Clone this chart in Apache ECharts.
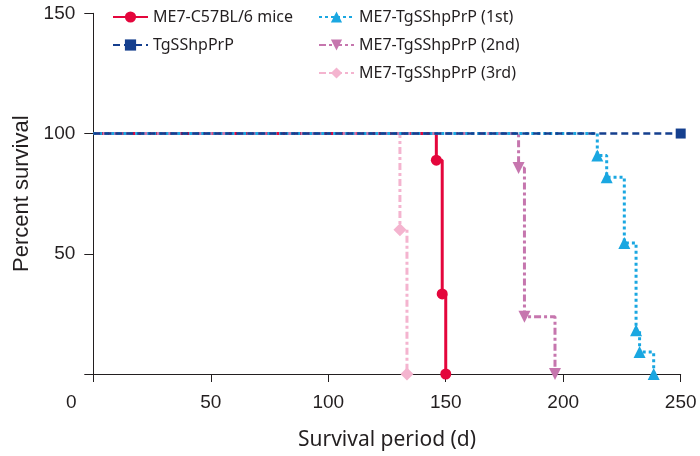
<!DOCTYPE html>
<html>
<head>
<meta charset="utf-8">
<script src="https://cdn.jsdelivr.net/npm/echarts@6/dist/echarts.min.js"></script>
<style>html,body{margin:0;padding:0;background:#fff}#c{width:700px;height:456px}</style>
</head>
<body>
<div id="c"></div>
<script>
// ---- data ----
const seriesNames = ['ME7-C57BL/6 mice','TgSShpPrP','ME7-TgSShpPrP (1st)','ME7-TgSShpPrP (2nd)','ME7-TgSShpPrP (3rd)'];
const daysC57 = [0, 146, 148.5, 150];
const survC57 = [100, 88.9, 33.3, 0];
const daysTg = [0, 250];
const survTg = [100, 100];
const days1st = [0, 214.5, 218.5, 226, 231, 232.5, 238.5];
const surv1st = [100, 90.9, 81.8, 54.5, 18.2, 9.1, 0];
const days2nd = [0, 181, 183.5, 196.5];
const surv2nd = [100, 85.7, 23.8, 0];
const days3rd = [0, 130.5, 133.5];
const surv3rd = [100, 60, 0];
const xTicks = [0, 50, 100, 150, 200, 250];
const yTicks = [0, 50, 100, 150];

function pts(xs, ys){
  return xs.map((x,i)=> i===0 ? {value:[x,ys[i]], symbol:'none'} : {value:[x,ys[i]]});
}

const chart = echarts.init(document.getElementById('c'), null, {renderer:'canvas'});
const tickFont = 'Liberation Sans, Arial, sans-serif';
const titleFont = 'Noto Sans, sans-serif';
const cols = ['#e4063c','#153f8e','#1aa7e1','#c676ae','#f4b4cf'];

chart.setOption({
  animation:false,
  backgroundColor:'#fff',
  grid:{left:93.3, right:19.3, top:13.3, bottom:79, containLabel:false},
  legend:[
    {data:[seriesNames[0],seriesNames[1]], orient:'vertical', left:107, top:4, itemWidth:35, itemHeight:14, itemGap:12,
     textStyle:{fontFamily:titleFont, fontSize:16, color:'#231f20'}, selectedMode:false},
    {data:[seriesNames[2],seriesNames[3],seriesNames[4]], orient:'vertical', left:313, top:4, itemWidth:35, itemHeight:14, itemGap:12,
     textStyle:{fontFamily:titleFont, fontSize:16, color:'#231f20'}, selectedMode:false}
  ],
  xAxis:{
    type:'value', min:0, max:250, interval:50,
    name:'Survival period (d)', nameLocation:'middle', nameGap:56,
    nameTextStyle:{fontFamily:titleFont, fontSize:21, color:'#231f20'},
    axisLine:{lineStyle:{color:'#231f20', width:1}},
    axisTick:{length:8, lineStyle:{color:'#231f20'}},
    splitLine:{show:false},
    axisLabel:{margin:19, fontFamily:tickFont, fontSize:19, color:'#231f20',
      formatter:function(v){ return v===0 ? '{z|0}' : String(v); },
      rich:{z:{fontFamily:tickFont, fontSize:19, color:'#231f20', padding:[0,44,0,0]}}}
  },
  yAxis:{
    type:'value', min:0, max:150, interval:50,
    name:'Percent survival', nameLocation:'middle', nameGap:58,
    nameTextStyle:{fontFamily:tickFont, fontSize:22, color:'#231f20'},
    axisLine:{show:true, lineStyle:{color:'#231f20', width:1}},
    axisTick:{show:true, length:9, lineStyle:{color:'#231f20'}},
    splitLine:{show:false},
    axisLabel:{margin:18, fontFamily:tickFont, fontSize:19, color:'#231f20',
      formatter:function(v){ return v===0 ? '' : String(v); }}
  },
  series:[
    {name:seriesNames[0], type:'line', step:'end', data:pts(daysC57,survC57), symbol:'circle', symbolSize:11,
     color:cols[0], lineStyle:{width:3, type:'solid', color:cols[0]}, itemStyle:{color:cols[0]}, z:1},
    {name:seriesNames[4], type:'line', step:'end', data:pts(days3rd,surv3rd), symbol:'diamond', symbolSize:13,
     color:cols[4], lineStyle:{width:3, type:[7,3,3,3], color:cols[4]}, itemStyle:{color:cols[4]}, z:2},
    {name:seriesNames[3], type:'line', step:'end', data:pts(days2nd,surv2nd), symbol:'triangle', symbolRotate:180, symbolSize:12,
     color:cols[3], lineStyle:{width:3, type:[7,3,3,3], color:cols[3]}, itemStyle:{color:cols[3]}, z:3},
    {name:seriesNames[2], type:'line', step:'end', data:pts(days1st,surv1st), symbol:'triangle', symbolSize:12,
     color:cols[2], lineStyle:{width:3, type:[3,3], color:cols[2]}, itemStyle:{color:cols[2]}, z:4},
    {name:seriesNames[1], type:'line', step:'end', data:pts(daysTg,survTg), symbol:'rect', symbolSize:10,
     color:cols[1], lineStyle:{width:2.5, type:[7,4], color:cols[1]}, itemStyle:{color:cols[1]}, z:5}
  ]
});
</script>
</body>
</html>
